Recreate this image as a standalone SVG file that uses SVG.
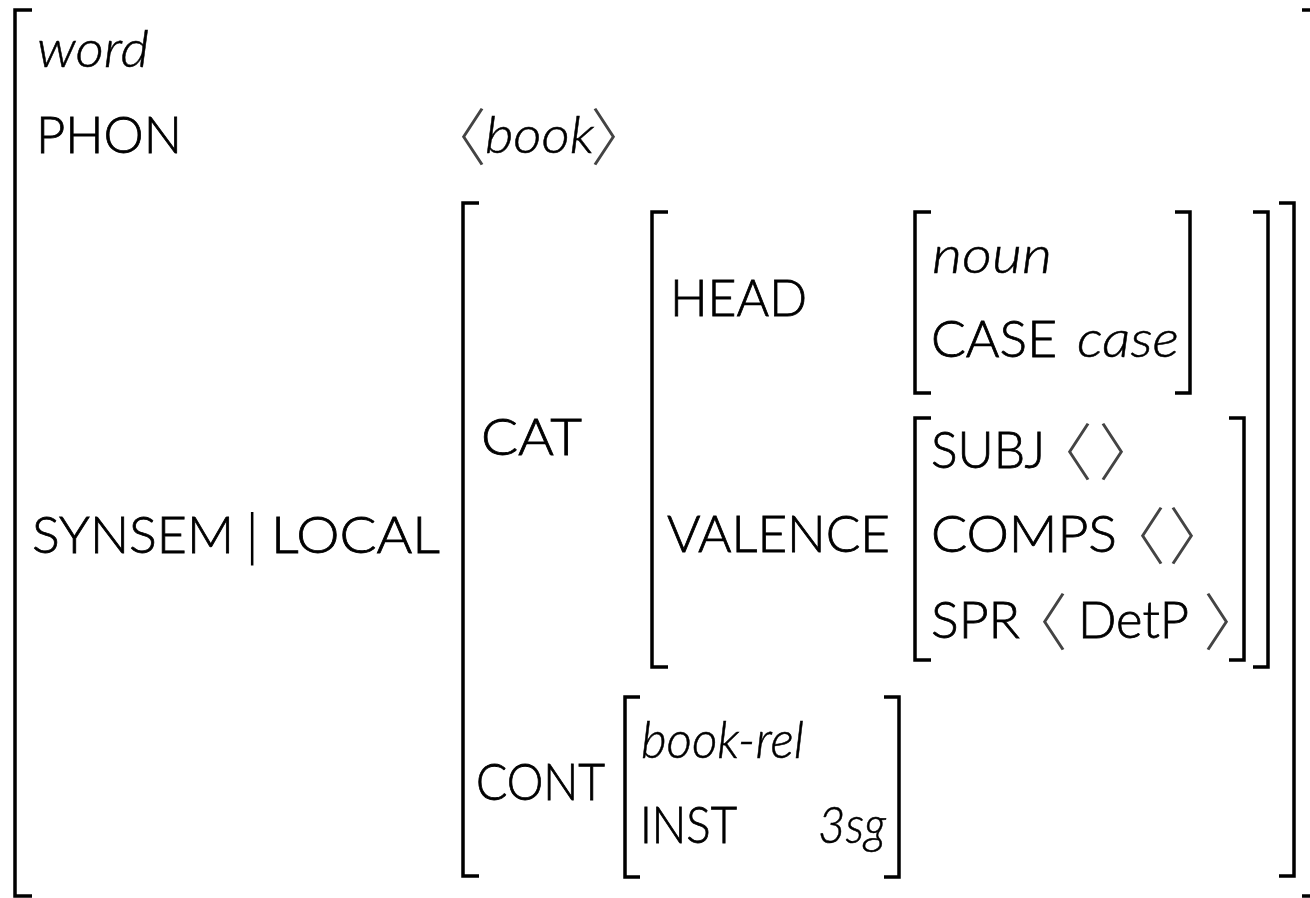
<svg xmlns="http://www.w3.org/2000/svg" width="1310" height="898" viewBox="0 0 1310 898">
  <style>
    .lbl { font-family: Lato, "Open Sans", "Liberation Sans", sans-serif; font-size: 52px; font-weight: 300; fill: #000; stroke: #000; stroke-width: 0.8px; }
    .typ { font-family: Lato, "Open Sans", "Liberation Sans", sans-serif; font-size: 52px; font-weight: 300; font-style: italic; fill: #000; stroke: #000; stroke-width: 0.5px; }
    .ang { font-family: "Noto Sans CJK JP", "Noto Sans CJK SC", sans-serif; font-size: 62px; font-weight: 200; fill: #444; font-feature-settings: "palt"; }
    .bar { font-family: "DejaVu Sans", "Liberation Sans", sans-serif; font-size: 54px; font-weight: 200; fill: #000; }
    .br  { fill: none; stroke: #000; stroke-width: 3.5; stroke-linejoin: miter; stroke-linecap: butt; }
  </style>
  <rect width="1310" height="898" fill="#fff"/>

  <!-- outermost word structure -->
  <g id="word">
    <path class="br" d="M32,10 H15 V896 H32"/>
    <path class="br" d="M1302,10 H1312 V896 H1302"/>
    <text class="typ" x="37" y="67" textLength="112" lengthAdjust="spacingAndGlyphs">word</text>
    <text class="lbl" x="36" y="153" textLength="146" lengthAdjust="spacingAndGlyphs">PHON</text>
    <text class="ang" x="454" y="161">〈</text>
    <text class="typ" x="485" y="153" textLength="109" lengthAdjust="spacingAndGlyphs">book</text>
    <text class="ang" x="592" y="161">〉</text>
    <text class="lbl" x="32" y="553" textLength="202" lengthAdjust="spacingAndGlyphs">SYNSEM</text>
    <text class="bar" x="243" y="553">|</text>
    <text class="lbl" x="271" y="553" textLength="169" lengthAdjust="spacingAndGlyphs">LOCAL</text>
  </g>

  <!-- LOCAL value -->
  <g id="local">
    <path class="br" d="M479,203 H463 V876 H479"/>
    <path class="br" d="M1279,203 H1294 V876 H1279"/>
    <text class="lbl" x="481" y="455" textLength="101" lengthAdjust="spacingAndGlyphs">CAT</text>
    <text class="lbl" x="476" y="800" textLength="129" lengthAdjust="spacingAndGlyphs">CONT</text>
  </g>

  <!-- CAT value -->
  <g id="cat">
    <path class="br" d="M668,212 H652 V667 H668"/>
    <path class="br" d="M1253,212 H1268 V667 H1253"/>
    <text class="lbl" x="670" y="316" textLength="137" lengthAdjust="spacingAndGlyphs">HEAD</text>
    <text class="lbl" x="667" y="552" textLength="223" lengthAdjust="spacingAndGlyphs">VALENCE</text>
  </g>

  <!-- HEAD value -->
  <g id="head">
    <path class="br" d="M931,212 H915 V393 H931"/>
    <path class="br" d="M1175,212 H1190 V393 H1175"/>
    <text class="typ" x="932" y="273" textLength="120" lengthAdjust="spacingAndGlyphs">noun</text>
    <text class="lbl" x="931" y="357" textLength="126" lengthAdjust="spacingAndGlyphs">CASE</text>
    <text class="typ" x="1077" y="357" textLength="102" lengthAdjust="spacingAndGlyphs">case</text>
  </g>

  <!-- VALENCE value -->
  <g id="valence">
    <path class="br" d="M931,418 H915 V660 H931"/>
    <path class="br" d="M1229,418 H1244 V660 H1229"/>
    <text class="lbl" x="931" y="468" textLength="114" lengthAdjust="spacingAndGlyphs">SUBJ</text>
    <text class="ang" x="1060" y="476">〈</text>
    <text class="ang" x="1100" y="476">〉</text>
    <text class="lbl" x="931" y="552" textLength="186" lengthAdjust="spacingAndGlyphs">COMPS</text>
    <text class="ang" x="1133" y="560">〈</text>
    <text class="ang" x="1170" y="560">〉</text>
    <text class="lbl" x="931" y="638" textLength="89" lengthAdjust="spacingAndGlyphs">SPR</text>
    <text class="ang" x="1035" y="646">〈</text>
    <text class="lbl" x="1078" y="638" textLength="111" lengthAdjust="spacingAndGlyphs">DetP</text>
    <text class="ang" x="1205" y="646">〉</text>
  </g>

  <!-- CONT value -->
  <g id="cont">
    <path class="br" d="M640,697 H625 V877 H640"/>
    <path class="br" d="M884,697 H899 V877 H884"/>
    <text class="typ" x="641" y="758" textLength="163" lengthAdjust="spacingAndGlyphs">book-rel</text>
    <text class="lbl" x="640" y="843" textLength="97" lengthAdjust="spacingAndGlyphs">INST</text>
    <text class="typ" x="818" y="843" textLength="68" lengthAdjust="spacingAndGlyphs">3sg</text>
  </g>

  <!-- no connectors in a feature structure -->
  <g id="connectors"/>
</svg>
